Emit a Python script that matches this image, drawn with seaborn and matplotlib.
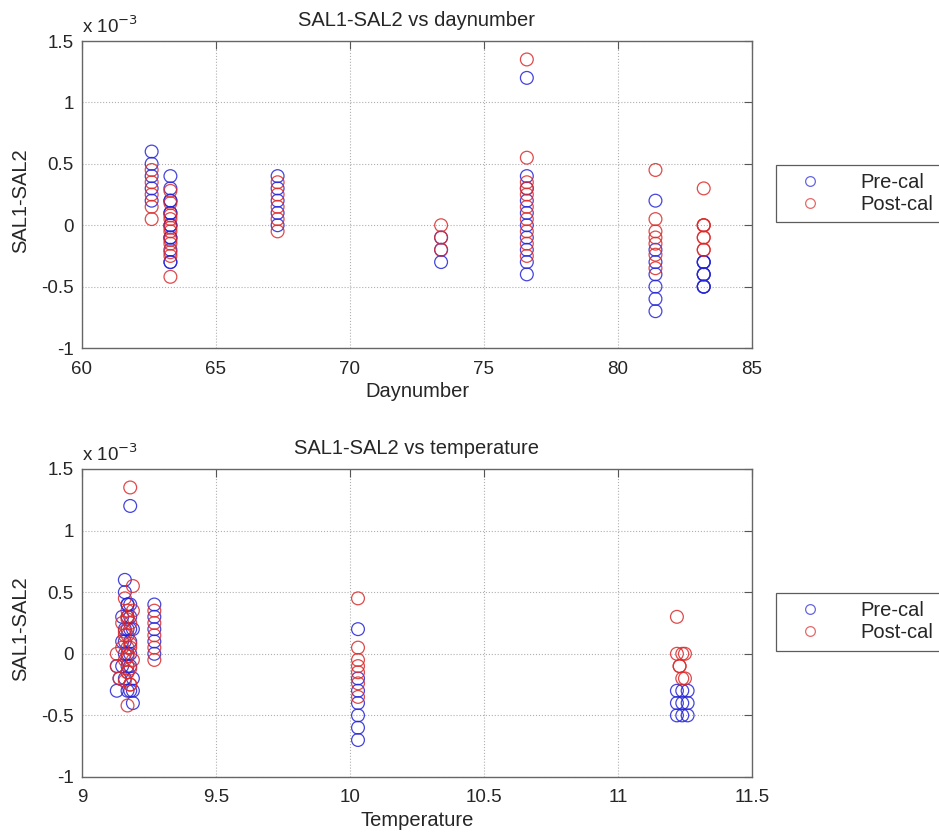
import numpy as np
import pandas as pd
import matplotlib
matplotlib.use("Agg")
import matplotlib.pyplot as plt
import seaborn as sns

# values in units of 1e-3
pre_day = [62.6] * 5 + [63.3] * 13 + [67.3] * 5 + [73.4] * 3 + [76.6] * 10 + [81.4] * 7 + [83.2] * 9
pre_temp = ([9.16, 9.16, 9.17, 9.15, 9.17]
            + [9.17, 9.18, 9.16, 9.19, 9.15, 9.18, 9.16, 9.17, 9.15, 9.18, 9.16, 9.19, 9.17]
            + [9.27] * 5
            + [9.13, 9.14, 9.13]
            + [9.18, 9.18, 9.17, 9.18, 9.16, 9.18, 9.17, 9.19, 9.18, 9.19]
            + [10.03] * 7
            + [11.22, 11.22, 11.22, 11.24, 11.24, 11.24, 11.26, 11.26, 11.26])
pre_val = ([0.6, 0.5, 0.4, 0.3, 0.2]
           + [0.4, 0.3, 0.2, 0.2, 0.1, 0.1, 0.0, 0.0, -0.1, -0.1, -0.2, -0.3, -0.3]
           + [0.4, 0.3, 0.2, 0.1, 0.0]
           + [-0.1, -0.2, -0.3]
           + [1.2, 0.4, 0.3, 0.2, 0.1, 0.0, -0.1, -0.2, -0.3, -0.4]
           + [0.2, -0.2, -0.3, -0.4, -0.5, -0.6, -0.7]
           + [-0.3, -0.4, -0.5, -0.3, -0.4, -0.5, -0.3, -0.4, -0.5])

post_day = [62.6] * 5 + [63.3] * 11 + [67.3] * 5 + [73.4] * 3 + [76.6] * 10 + [81.4] * 7 + [83.2] * 8
post_temp = ([9.16, 9.17, 9.15, 9.16, 9.17]
             + [9.17, 9.16, 9.18, 9.15, 9.17, 9.16, 9.18, 9.17, 9.16, 9.18, 9.17]
             + [9.27] * 5
             + [9.13, 9.13, 9.14]
             + [9.18, 9.19, 9.19, 9.18, 9.17, 9.18, 9.19, 9.17, 9.18, 9.17]
             + [10.03] * 7
             + [11.22, 11.22, 11.23, 11.24, 11.25, 11.23, 11.25, 11.24])
post_val = ([0.45, 0.35, 0.25, 0.15, 0.05]
            + [0.28, 0.18, 0.08, 0.05, -0.02, -0.05, -0.12, -0.15, -0.22, -0.25, -0.42]
            + [0.35, 0.25, 0.15, 0.05, -0.05]
            + [0.0, -0.1, -0.2]
            + [1.35, 0.55, 0.35, 0.25, 0.15, 0.05, -0.05, -0.15, -0.25, 0.3]
            + [0.45, 0.05, -0.05, -0.15, -0.24, -0.35, -0.1]
            + [0.3, 0.0, -0.1, -0.2, 0.0, -0.1, -0.2, 0.0])

df = pd.concat([
    pd.DataFrame({"day": pre_day, "temp": pre_temp, "val": pre_val, "cal": "Pre-cal"}),
    pd.DataFrame({"day": post_day, "temp": post_temp, "val": post_val, "cal": "Post-cal"}),
], ignore_index=True)

sns.set_style("white")
plt.rcParams['font.family'] = ['Liberation Sans', 'DejaVu Sans']

fig = plt.figure(figsize=(9.39, 8.36), dpi=100)
ax1 = fig.add_axes([0.0873, 0.5837, 0.7135, 0.3672])
ax2 = fig.add_axes([0.0873, 0.0706, 0.7135, 0.3684])

palette = {"Pre-cal": "#2424d8", "Post-cal": "#dc2a2a"}

for ax, xcol, title, xlabel, xlim, xticks, leg_y in [
    (ax1, "day", "SAL1-SAL2 vs daynumber", "Daynumber", (60, 85), [60, 65, 70, 75, 80, 85], 0.769),
    (ax2, "temp", "SAL1-SAL2 vs temperature", "Temperature", (9, 11.5), [9, 9.5, 10, 10.5, 11, 11.5], 0.256),
]:
    sns.scatterplot(data=df, x=xcol, y="val", hue="cal", palette=palette,
                    hue_order=["Pre-cal", "Post-cal"], ax=ax, s=85,
                    marker="o", linewidth=0.9, alpha=0.85, legend=False)
    # seaborn fills markers; turn them into open circles
    for coll in ax.collections:
        ec = coll.get_facecolors()
        coll.set_edgecolors(ec)
        coll.set_facecolors("none")
    ax.set_xlim(*xlim)
    ax.set_ylim(-1, 1.5)
    ax.set_xticks(xticks)
    ax.set_xticklabels([f"{t:g}" for t in xticks])
    ax.set_yticks([-1, -0.5, 0, 0.5, 1, 1.5])
    ax.set_yticklabels(["-1", "-0.5", "0", "0.5", "1", "1.5"])
    ax.grid(True, linestyle=":", color="#b0b0b0", linewidth=0.8)
    ax.tick_params(direction="in", length=6, top=True, right=True, labelsize=13.5,
                   color="#555555", pad=6)
    ax.tick_params(axis="x", pad=9)
    for sp in ax.spines.values():
        sp.set_color("#666666")
        sp.set_linewidth(1.0)
    ax.set_title(title, fontsize=14.5, pad=11)
    ax.set_xlabel(xlabel, fontsize=14.5, labelpad=3)
    ax.set_ylabel("SAL1-SAL2", fontsize=14.5)
    ax.yaxis.set_label_coords(-0.077, 0.48)
    ax.text(0.0, 1.012, r"x 10$^{-3}$", transform=ax.transAxes, fontsize=13.5, va="bottom", ha="left")
    handles = [plt.Line2D([], [], marker="o", linestyle="none", markerfacecolor="none",
                          markeredgecolor=palette[k], markersize=7, markeredgewidth=0.9, alpha=0.7)
               for k in ["Pre-cal", "Post-cal"]]
    leg = fig.legend(handles=handles, labels=["Pre-cal", "Post-cal"],
                     loc="center left", bbox_to_anchor=(0.826, leg_y),
                     fontsize=14.5, frameon=True, fancybox=False, edgecolor="#333333",
                     handlelength=2.6, handletextpad=1.2, borderpad=0.4, labelspacing=0.15,
                     borderaxespad=0)
    leg.get_frame().set_linewidth(0.9)

fig.savefig("out.png", dpi=100, facecolor="white")
